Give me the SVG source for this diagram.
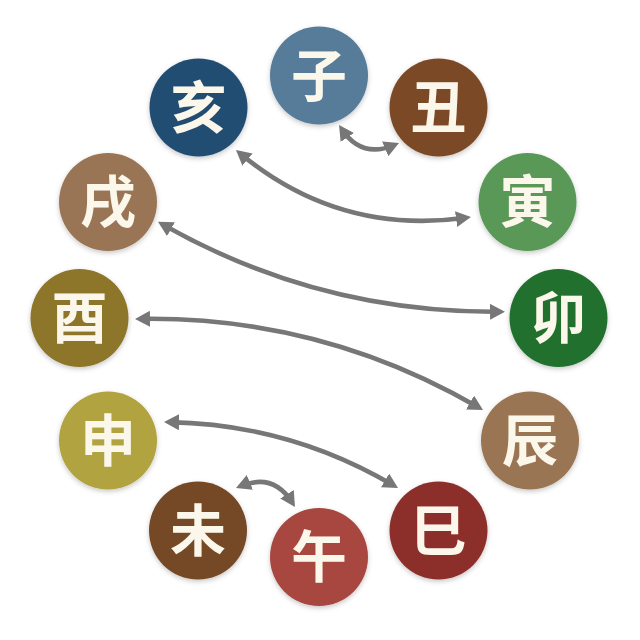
<svg xmlns="http://www.w3.org/2000/svg" width="640" height="640" viewBox="0 0 640 640">
<style>
.node circle{filter:url(#sh)}
.node text{font-family:"Noto Sans CJK SC","Noto Sans CJK TC",sans-serif;font-size:56px;font-weight:700;fill:#fcf7eb;text-anchor:middle}
.conn path{fill:none;stroke:#777777;stroke-width:4.6;marker-start:url(#ah);marker-end:url(#ah)}
</style>
<defs>
<filter id="sh" x="-30%" y="-30%" width="160%" height="160%">
<feDropShadow dx="0" dy="2" stdDeviation="2.5" flood-color="#000" flood-opacity="0.22"/>
</filter>
<marker id="ah" viewBox="0 0 15 16" refX="10" refY="8" markerWidth="15" markerHeight="16" markerUnits="userSpaceOnUse" orient="auto-start-reverse">
<path d="M0,0 L15,8 L0,16 z" fill="#777777"/>
</marker>
</defs>
<rect width="640" height="640" fill="#ffffff"/>
<g id="connectors" class="conn">
<path d="M341.8,129.2 Q361.5,158.9 394.4,145.0"/>
<path d="M239.8,153.2 Q338.7,235.4 466.0,217.7"/>
<path d="M162.3,224.2 Q319.5,313.5 500,311.7"/>
<path d="M140,318.9 Q321.7,316.2 478.7,407.5"/>
<path d="M169,422.1 Q289.7,424.2 393.7,485.5"/>
<path d="M240.6,486.1 Q273.5,472.7 292.3,502.8"/>
</g>
<g id="zi" class="node"><circle cx="319" cy="75.5" r="49" fill="#567b99"/><text x="319" y="95.5">子</text></g>
<g id="chou" class="node"><circle cx="438.5" cy="107.5" r="49" fill="#7b4a28"/><text x="438.5" y="127.5">丑</text></g>
<g id="yin" class="node"><circle cx="527.5" cy="202" r="49" fill="#5a9858"/><text x="527.5" y="222">寅</text></g>
<g id="mao" class="node"><circle cx="558.5" cy="318" r="49" fill="#23702f"/><text x="558.5" y="338">卯</text></g>
<g id="chen" class="node"><circle cx="530" cy="440.5" r="49" fill="#9a7553"/><text x="530" y="460.5">辰</text></g>
<g id="si" class="node"><circle cx="438.5" cy="530.5" r="49" fill="#8c2f2b"/><text x="438.5" y="550.5">巳</text></g>
<g id="wu" class="node"><circle cx="319" cy="557" r="49" fill="#a84741"/><text x="319" y="577">午</text></g>
<g id="wei" class="node"><circle cx="198" cy="530.5" r="49" fill="#744826"/><text x="198" y="550.5">未</text></g>
<g id="shen" class="node"><circle cx="108" cy="440.5" r="49" fill="#b0a340"/><text x="108" y="460.5">申</text></g>
<g id="you" class="node"><circle cx="79.5" cy="318" r="49" fill="#8d7529"/><text x="79.5" y="338">酉</text></g>
<g id="xu" class="node"><circle cx="108" cy="202" r="49" fill="#9a7555"/><text x="108" y="222">戌</text></g>
<g id="hai" class="node"><circle cx="198.5" cy="107.5" r="49" fill="#244d73"/><text x="198.5" y="127.5">亥</text></g>
</svg>
